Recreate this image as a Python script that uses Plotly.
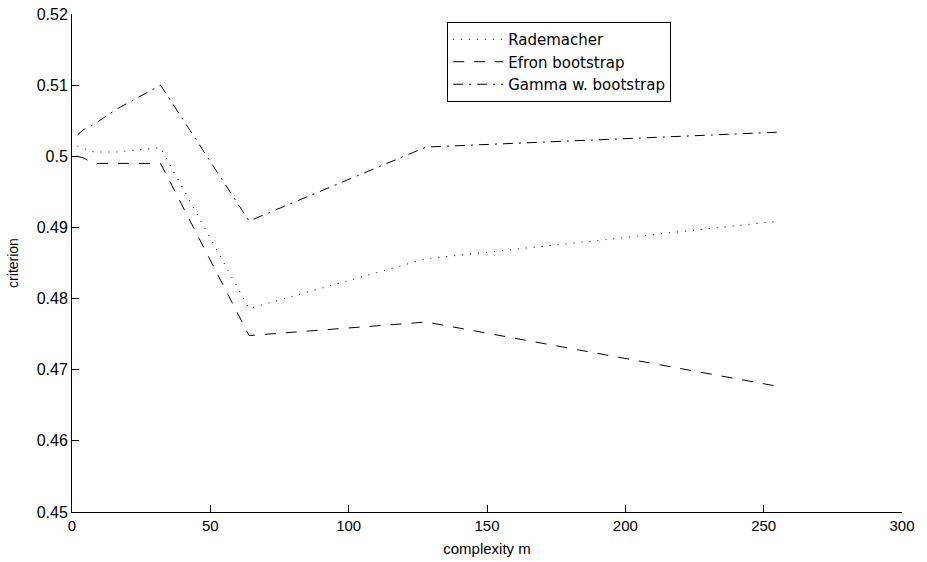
import plotly.graph_objects as go

m = [2, 4, 8, 16, 32, 64, 128, 256]
rademacher = [0.50145, 0.5011, 0.5006, 0.5006, 0.5012, 0.4786, 0.4856, 0.4909]
efron = [0.5000, 0.4998, 0.4990, 0.4990, 0.4990, 0.4748, 0.4767, 0.4676]
gamma = [0.5030, 0.5037, 0.5045, 0.5066, 0.5100, 0.4909, 0.5013, 0.5034]

xticks = [0, 50, 100, 150, 200, 250, 300]
yticks = [0.45, 0.46, 0.47, 0.48, 0.49, 0.50, 0.51, 0.52]
yticktext = ["0.45", "0.46", "0.47", "0.48", "0.49", "0.5", "0.51", "0.52"]

font = "Liberation Sans, Arial, sans-serif"

fig = go.Figure()
fig.add_trace(go.Scatter(x=m, y=rademacher, mode="lines", name="Rademacher",
                         line=dict(color="black", width=1, dash="1px,7px")))
fig.add_trace(go.Scatter(x=m, y=efron, mode="lines", name="Efron bootstrap",
                         line=dict(color="black", width=1, dash="11px,10px")))
fig.add_trace(go.Scatter(x=m, y=gamma, mode="lines", name="Gamma w. bootstrap",
                         line=dict(color="black", width=1, dash="10px,6px,2px,6px")))

fig.update_layout(
    width=927, height=562,
    margin=dict(l=72, r=25, t=14, b=50),
    paper_bgcolor="white", plot_bgcolor="white",
    font=dict(family=font, size=14, color="black"),
    showlegend=True,
    legend=dict(x=0.452, y=0.984, xanchor="left", yanchor="top",
                bgcolor="white", bordercolor="black", borderwidth=1,
                font=dict(size=15, family="DejaVu Sans, sans-serif"),
                tracegroupgap=0, itemwidth=50),
    xaxis=dict(range=[0, 300], tickvals=xticks, ticks="inside", ticklen=7,
               tickcolor="black", showline=True, linecolor="black", linewidth=1,
               showgrid=False, zeroline=False, mirror=False, automargin=False,
               tickfont=dict(size=15),
               title=dict(text="complexity m", font=dict(size=15), standoff=10)),
    yaxis=dict(range=[0.45, 0.52], tickvals=yticks, ticktext=yticktext,
               ticks="inside", ticklen=7, tickcolor="black",
               showline=True, linecolor="black", linewidth=1,
               showgrid=False, zeroline=False, mirror=False, automargin=False,
               tickfont=dict(size=16),
               title=dict(text="criterion", font=dict(size=14), standoff=14)),
)

fig.write_html("out.html")
